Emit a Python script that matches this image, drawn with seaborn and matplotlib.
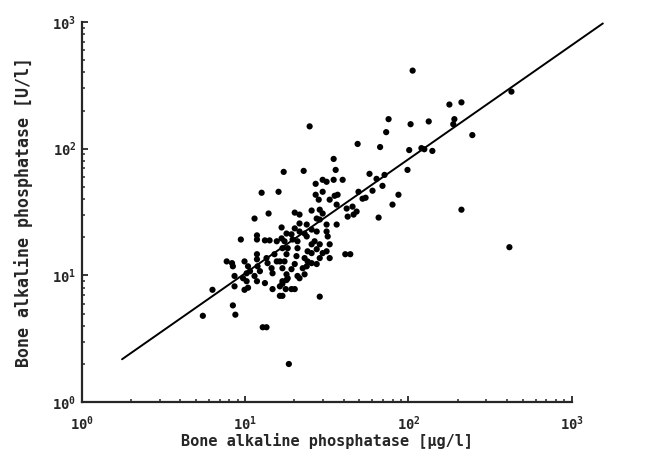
import matplotlib
matplotlib.use("Agg")
import matplotlib.pyplot as plt
import seaborn as sns
import pandas as pd

# bone ALP mass concentration [ug/l] vs activity [U/l]
mass_ugl = [
    106, 178, 211, 427, 75.5, 103, 133, 191, 188, 73, 246, 67, 101, 120, 125,
    140, 98.6, 57.7, 63.7, 71.3, 69.3, 60.2, 52.3, 54.6, 86.8, 79.8, 65.6, 211, 415,
    24.8, 48.8, 34.8, 35.8, 17.2, 22.8, 29.8, 31.5, 34.8, 39.5, 12.6, 16.0, 27.0,
    27.0, 29.8, 35.3, 36.8, 28.2, 32.9, 36.3, 49.4,
    11.4, 13.9, 20.1, 21.5, 25.5, 28.6, 27.4, 28.6, 31.5, 16.7, 21.5, 23.8, 41.8,
    45.4, 48.1, 42.4, 36.3, 20.1, 29.8, 46.1,
    9.4, 11.8, 11.8, 13.2, 14.1, 15.6, 17.9, 19.2, 21.5, 23.1, 25.5, 27.4, 31.5,
    32.0, 16.7, 17.4, 19.5, 20.9, 23.8, 26.6, 28.6, 32.9,
    16.9, 18.2, 20.9, 24.1, 25.5, 29.8, 17.9, 20.6, 23.1, 28.6, 32.9, 41, 44,
    16.3, 17.4, 20.1, 24.1, 25.5, 16.9, 19.2, 22.5, 23.8, 17.9, 18.2, 20.9, 23.1,
    16.9, 16.9, 21.5, 19.2, 20.1, 16.3,
    15.1, 7.7, 8.3, 8.4, 9.9, 10.4, 11.8, 10.2, 10.7, 11.9, 12.3, 13.5, 13.7, 14.5,
    14.7, 15.6, 9.7, 10.2, 11.4, 11.8, 13.2, 8.6, 10.4, 6.3, 8.4, 8.7, 5.5, 12.8,
    13.5, 18.5, 14.7, 17.7, 16.3, 16.9, 28.6, 9.9, 11.8, 8.6, 25.5, 27.4, 31.5,
    27.4, 17.9,
]
activity_ul = [
    413, 223, 232, 282, 171, 156, 164, 171, 156, 135, 128, 103, 97.5, 101, 99,
    96, 68, 63.3, 57.8, 62.1, 50.9, 46.6, 40.3, 41.0, 43.3, 36.2, 28.6, 33.0, 16.7,
    150, 109, 83, 68, 65.6, 66.8, 56.8, 54.8, 56.8, 56.8, 44.9, 45.7, 52.8,
    43.3, 45.7, 42.5, 43.3, 39.6, 39.6, 36.2, 45.7,
    28.1, 30.8, 31.3, 30.2, 32.5, 33.0, 28.1, 27.6, 25.2, 23.9, 25.7, 25.2, 33.7,
    34.9, 31.9, 29.1, 25.2, 23.5, 30.8, 30.2,
    19.2, 20.7, 19.2, 18.9, 18.9, 18.6, 21.4, 21.1, 22.2, 21.4, 23.0, 22.2, 22.2,
    20.3, 19.6, 18.6, 19.2, 18.6, 20.3, 18.6, 17.6, 17.6,
    16.4, 16.4, 16.4, 15.5, 15.0, 15.0, 14.7, 14.2, 13.7, 13.7, 13.7, 14.7, 14.7,
    12.9, 12.9, 12.3, 12.9, 12.5, 11.4, 11.2, 11.4, 11.8, 10.2, 9.5, 9.9, 10.2,
    9.0, 8.6, 9.5, 7.8, 7.8, 8.2,
    14.7, 12.9, 12.5, 11.8, 12.9, 11.8, 13.4, 10.4, 10.8, 11.8, 10.8, 13.7, 12.5, 11.4,
    10.4, 12.9, 9.5, 9.0, 9.9, 9.0, 8.7, 8.2, 8.0, 7.7, 5.8, 4.9, 4.8, 3.9,
    3.9, 2.0, 7.8, 7.8, 6.9, 6.9, 6.8, 7.7, 14.7, 9.9, 17.6, 16.1, 15.5,
    12.3, 9.2,
]

# regression line end points
fit_x = [1.76, 1550]
fit_y = [2.18, 973]

decades = [1, 10, 100, 1000]
decade_labels = ["$10^{0}$", "$10^{1}$", "$10^{2}$", "$10^{3}$"]

df = pd.DataFrame({"mass": mass_ugl, "activity": activity_ul})

sns.set_style("ticks")
plt.rcParams["font.family"] = ["DejaVu Sans Mono", "DejaVu Sans"]
plt.rcParams["font.weight"] = "bold"
plt.rcParams["mathtext.fontset"] = "custom"
plt.rcParams["mathtext.rm"] = "DejaVu Sans Mono:bold"
plt.rcParams["mathtext.it"] = "DejaVu Sans Mono:bold"
plt.rcParams["mathtext.bf"] = "DejaVu Sans Mono:bold"

fig = plt.figure(figsize=(6.61, 4.57), dpi=100)
ax = fig.add_axes([0.124, 0.12, 0.741, 0.832])

sns.scatterplot(data=df, x="mass", y="activity", s=20, color="black",
                edgecolor="none", ax=ax, legend=False)
ax.plot(fit_x, fit_y, color="black", lw=1.4, clip_on=False)

ax.set_xscale("log")
ax.set_yscale("log")
ax.set_xlim(1, 1000)
ax.set_ylim(1, 1000)
ax.set_xticks(decades)
ax.set_xticklabels(decade_labels)
ax.set_yticks(decades)
ax.set_yticklabels(decade_labels)

sns.despine(ax=ax)
for side in ["left", "bottom"]:
    ax.spines[side].set_linewidth(1.6)
ax.tick_params(which="major", direction="in", length=4, width=1.3,
               labelsize=10, pad=4)
ax.tick_params(axis="x", which="major", pad=9)
ax.tick_params(which="minor", direction="in", length=2.5, width=1.1)

ax.set_xlabel("Bone alkaline phosphatase [µg/l]", fontsize=11,
              fontweight="bold", labelpad=0)
ax.set_ylabel("Bone alkaline phosphatase [U/l]", fontsize=12,
              fontweight="bold", labelpad=14)

fig.savefig("out.png", dpi=100)
